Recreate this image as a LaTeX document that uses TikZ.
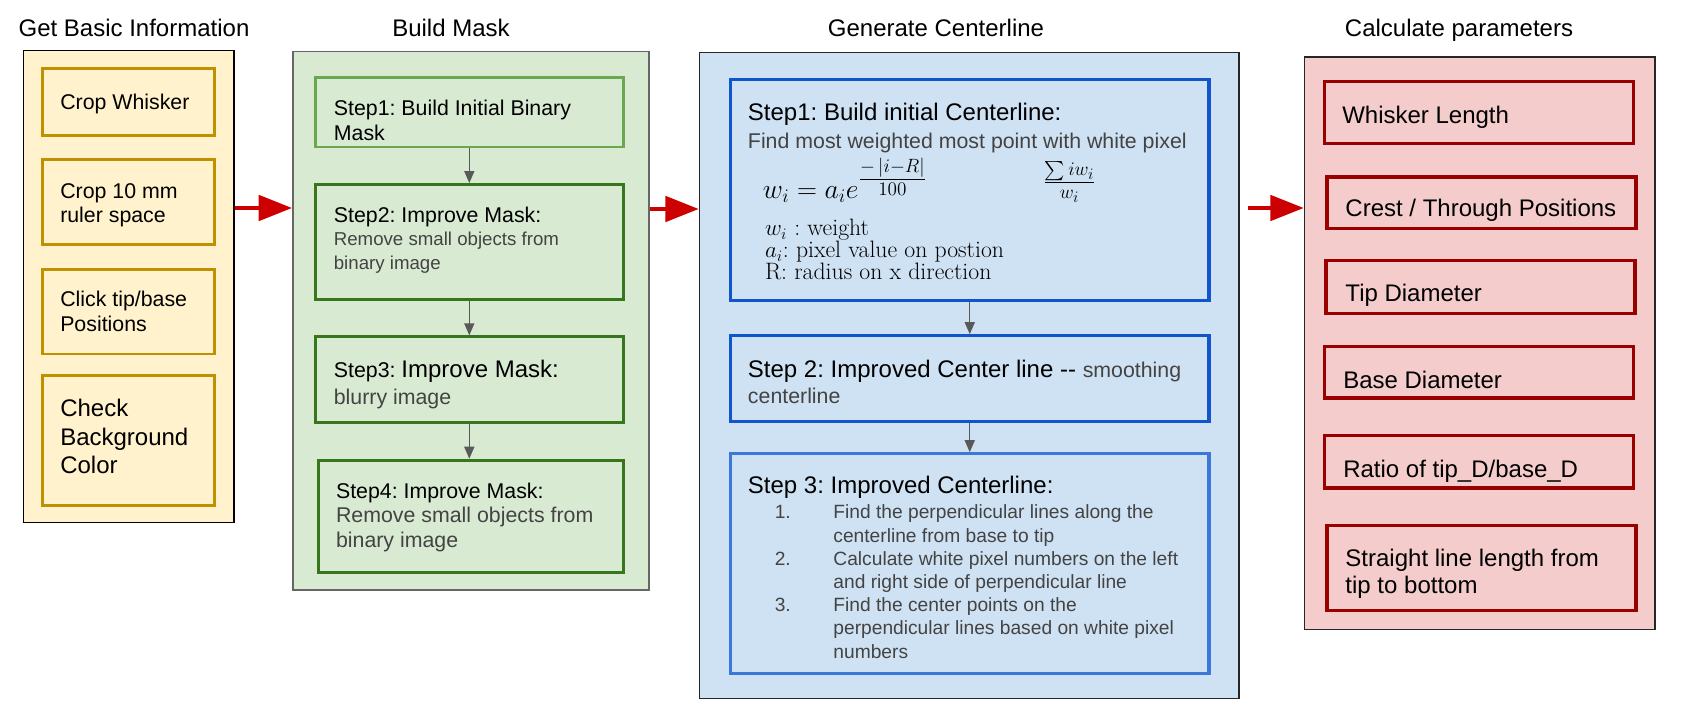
\documentclass[tikz,border=0pt]{standalone}
\usepackage{amsmath}
\usepackage{fontspec}
\setsansfont{Liberation Sans}
\usetikzlibrary{arrows.meta,fit}
\definecolor{yfill}{HTML}{FFF2CC}
\definecolor{yline}{HTML}{BF9000}
\definecolor{gfill}{HTML}{D9EAD3}
\definecolor{gouter}{HTML}{666666}
\definecolor{gline1}{HTML}{6AA84F}
\definecolor{gline2}{HTML}{38761D}
\definecolor{bfill}{HTML}{CFE2F3}
\definecolor{bline1}{HTML}{1155CC}
\definecolor{bline3}{HTML}{3C78D8}
\definecolor{rfill}{HTML}{F4CCCC}
\definecolor{rline}{HTML}{990000}
\definecolor{arrred}{HTML}{CC0000}
\definecolor{arrgray}{HTML}{595959}
\definecolor{graytxt}{HTML}{434343}
\begin{document}
\frenchspacing
\begin{tikzpicture}[x=0.75pt,y=-0.75pt,
  outerbox/.style={draw, line width=1.1pt, inner sep=0pt},
  ybox/.style={draw=yline, fill=yfill, line width=2.2pt, inner sep=0pt},
  gbox/.style={draw=gline2, fill=gfill, line width=2.2pt, inner sep=0pt},
  bbox/.style={draw=bline1, fill=bfill, line width=2.4pt, inner sep=0pt},
  rbox/.style={draw=rline, fill=rfill, line width=2.4pt, inner sep=0pt},
  txt/.style={inner sep=0pt, align=left, anchor=north west, text=black},
  ttl/.style={inner sep=0pt, anchor=base, font=\fontsize{18}{21}\selectfont\sffamily},
  bigarrow/.style={draw=arrred, line width=3pt, -{Triangle[length=25pt,width=19pt]}, fill=arrred},
  smallarrow/.style={draw=arrgray, line width=1.1pt, -{Triangle[length=9pt,width=7.5pt]}, fill=arrgray},
  f16/.style={font=\fontsize{16}{18.5}\selectfont\sffamily},
  f18/.style={font=\fontsize{18}{21}\selectfont\sffamily},
]
\useasboundingbox[fill=white] (0,0) rectangle (1682,719);

% titles
\node[ttl] (t1) at (134,36.5) {Get Basic Information};
\node[ttl] (t2) at (451,36.5) {Build Mask};
\node[ttl] (t3) at (936,36.5) {Generate Centerline};
\node[ttl] (t4) at (1459,36.5) {Calculate parameters};

% yellow column
\node[outerbox, draw=black, fill=yfill, fit={(23.6,50.4) (233.8,522.4)}] (yel) {};
\node[ybox, fit={(42.9,68.7) (214.5,135.2)}] (y1) {};
\node[ybox, fit={(42.9,159.8) (214.5,244.6)}] (y2) {};
\node[ybox, fit={(42.9,269.2) (214.5,354)}] (y3) {};
\node[ybox, fit={(42.9,375.4) (214.5,505.2)}] (y4) {};
\node[txt, f16] (y1t) at (60,94) {Crop Whisker};
\node[txt, f16] (y2t) at (60,183) {Crop 10 mm\\ruler space};
\node[txt, f16] (y3t) at (60,291) {Click tip/base\\Positions};
\node[txt, font=\fontsize{18}{21.3}\selectfont\sffamily] (y4t) at (60,399) {Check\\Background\\Color};

% green column
\node[outerbox, draw=gouter, fill=gfill, fit={(292.8,51.5) (649,590)}] (grn) {};
\node[gbox, draw=gline1, fit={(315.4,77.2) (623.2,147)}] (g1) {};
\node[gbox, fit={(315.4,184.5) (623.2,299.3)}] (g2) {};
\node[gbox, fit={(315.4,336.8) (623.2,422.6)}] (g3) {};
\node[gbox, fit={(318.6,460.2) (623.2,572.8)}] (g4) {};
\node[txt, font=\fontsize{16}{19.3}\selectfont\sffamily] (g1t) at (333.6,99.4) {Step1: Build Initial Binary\\Mask};
\node[txt, font=\fontsize{16}{17.7}\selectfont\sffamily] (g2t) at (333.6,206.6) {Step2: Improve Mask:\\\textcolor{graytxt}{\fontsize{14}{17}\selectfont Remove small objects from}\\\textcolor{graytxt}{\fontsize{14}{17}\selectfont binary image}};
\node[txt, font=\fontsize{16}{20}\selectfont\sffamily] (g3t) at (333.6,360) {Step3: {\fontsize{18}{20}\selectfont Improve Mask:}\\\textcolor{graytxt}{blurry image}};
\node[txt, f16] (g4t) at (335.8,482.3) {Step4: Improve Mask:\\\textcolor{graytxt}{Remove small objects from}\\\textcolor{graytxt}{binary image}};
\draw[smallarrow] (g1.south) -- (g2.north);
\draw[smallarrow] (g2.south) -- (g3.north);
\draw[smallarrow] (g3.south) -- (g3.south |- g4.north);

% blue column
\node[outerbox, draw=black!85, fill=bfill, fit={(699.4,52.6) (1239,698.3)}] (blu) {};
\node[bbox, fit={(730.5,79.4) (1209,300.4)}] (b1) {};
\node[bbox, fit={(730.5,335.8) (1209,421.6)}] (b2) {};
\node[bbox, draw=bline3, fit={(730.5,453.8) (1209,673.7)}] (b3) {};
\node[txt, font=\fontsize{18}{20.9}\selectfont\sffamily] (b1t) at (747.7,102.7) {Step1: Build initial Centerline:\\\textcolor{graytxt}{\fontsize{16}{18}\selectfont Find most weighted most point with white pixel}};
\node[inner sep=0pt, anchor=base west, font=\fontsize{20.74}{24}\selectfont] (f1) at (762.7,198.5) {$w_i = a_i e^{\genfrac{}{}{}{1}{-\,|i-R|}{100}}$};
\node[inner sep=0pt, anchor=center, font=\fontsize{20.74}{24}\selectfont] (f2) at (1069.5,182) {$\frac{\sum i w_i}{w_i}$};
\node[txt, font=\fontsize{17.8}{16.5}\selectfont\rmfamily] (leg) at (764.8,219) {$w_i$ : weight\\$a_i$: pixel value on postion\\R: radius on x direction};
\node[txt, font=\fontsize{18}{19.3}\selectfont\sffamily] (b2t) at (747.7,360) {Step 2: Improved Center line -{}- \textcolor{graytxt}{\fontsize{16}{18}\selectfont smoothing}\\\textcolor{graytxt}{\fontsize{16}{18}\selectfont centerline}};
\node[txt, f18] (b3t) at (747.7,476) {Step 3: Improved Centerline:};
\node[txt, font=\fontsize{14.4}{17.4}\selectfont\sffamily, text=graytxt] (b3l) at (774.5,502.4) {%
\begin{tabular}{@{}p{44pt}@{}l@{}}
1. & Find the perpendicular lines along the\\
   & centerline from base to tip\\
2. & Calculate white pixel numbers on the left\\
   & and right side of perpendicular line\\
3. & Find the center points on the\\
   & perpendicular lines based on white pixel\\
   & numbers
\end{tabular}};
\draw[smallarrow] (b1.south) -- (b2.north);
\draw[smallarrow] (b2.south) -- (b3.north);

% red column
\node[outerbox, draw=black!85, fill=rfill, fit={(1304.4,56.9) (1655.2,629.7)}] (red) {};
\node[rbox, fit={(1324.8,81.5) (1633.7,143.7)}] (r1) {};
\node[rbox, fit={(1327,177) (1636,228.5)}] (r2) {};
\node[rbox, fit={(1326,260.7) (1635,313.2)}] (r3) {};
\node[rbox, fit={(1324.8,346.5) (1633.7,398)}] (r4) {};
\node[rbox, fit={(1324.8,435.5) (1633.7,488)}] (r5) {};
\node[rbox, fit={(1327,525.6) (1636,610.4)}] (r6) {};
\node[txt, f18] (r1t) at (1342,105.9) {Whisker Length};
\node[txt, f18] (r2t) at (1345.2,199.2) {Crest / Through Positions};
\node[txt, f18] (r3t) at (1345.2,284) {Tip Diameter};
\node[txt, f18] (r4t) at (1343,370.8) {Base Diameter};
\node[txt, f18] (r5t) at (1343,459.9) {Ratio of tip\_D/base\_D};
\node[txt, font=\fontsize{18}{20}\selectfont\sffamily] (r6t) at (1345.2,548.9) {Straight line length from\\tip to bottom};

% big arrows
\coordinate (a1) at (0,208);
\coordinate (a2) at (0,209);
\coordinate (a3) at (0,208);
\draw[bigarrow] (yel.east |- a1) -- (grn.west |- a1);
\draw[bigarrow] (grn.east |- a2) -- (blu.west |- a2);
\draw[bigarrow] ([xshift=6pt]blu.east |- a3) -- (red.west |- a3);
\end{tikzpicture}
\end{document}
